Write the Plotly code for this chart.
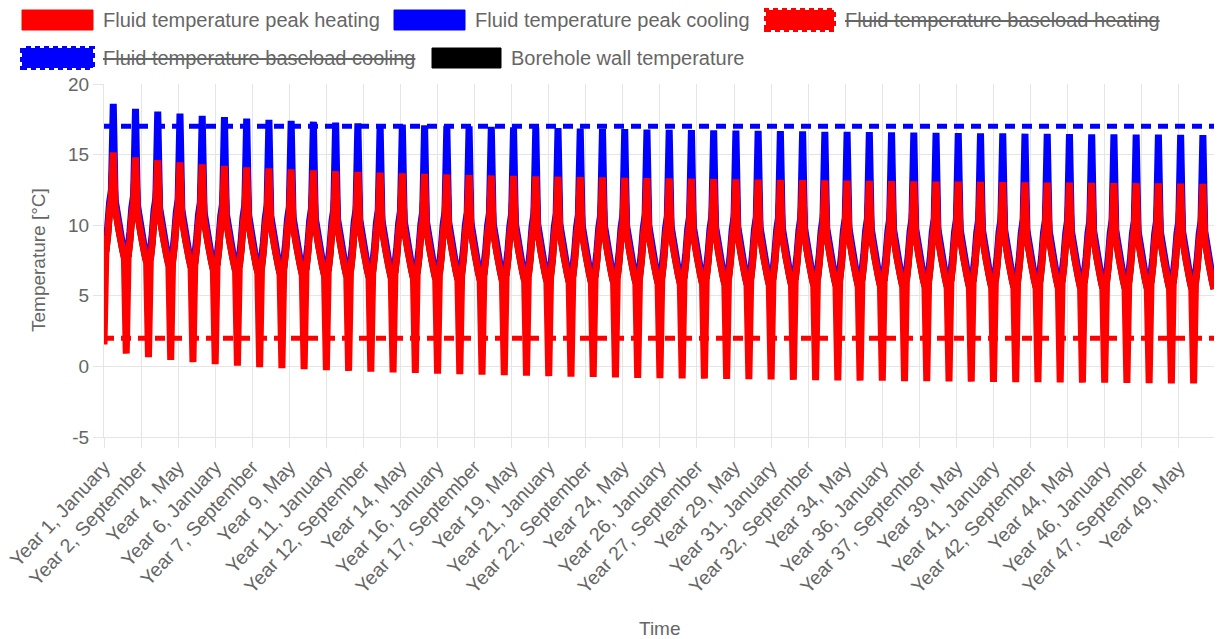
import plotly.graph_objects as go

# ---------------- data ----------------
month_names = ["January", "February", "March", "April", "May", "June",
               "July", "August", "September", "October", "November", "December"]
n_years = 50

# shift of the whole seasonal pattern per simulation year (read from the peaks)
year_offset = [0.00, -0.35, -0.55, -0.70, -0.85, -0.95, -1.05, -1.13, -1.20, -1.27,
               -1.33, -1.38, -1.43, -1.48, -1.52, -1.56, -1.60, -1.63, -1.66, -1.69,
               -1.72, -1.75, -1.77, -1.80, -1.82, -1.84, -1.86, -1.88, -1.90, -1.92,
               -1.94, -1.96, -1.98, -1.99, -2.01, -2.03, -2.04, -2.06, -2.07, -2.09,
               -2.10, -2.12, -2.13, -2.14, -2.16, -2.17, -2.18, -2.19, -2.20, -2.22]

# January minimum of the peak-heating fluid temperature, per year
heat_min_january = [1.55, 0.90, 0.65, 0.45, 0.30, 0.15, 0.05, -0.05, -0.12, -0.19,
                    -0.26, -0.32, -0.37, -0.42, -0.47, -0.51, -0.55, -0.59, -0.63, -0.66,
                    -0.69, -0.72, -0.75, -0.78, -0.81, -0.83, -0.85, -0.87, -0.89, -0.91,
                    -0.93, -0.95, -0.97, -0.99, -1.01, -1.02, -1.04, -1.05, -1.07, -1.08,
                    -1.10, -1.11, -1.12, -1.14, -1.15, -1.16, -1.17, -1.19, -1.20, -1.21]

# monthly values in year 1 (January of peak heating comes from heat_min_january)
peak_heating_year1 = [None, 8.1, 9.3, 11.0, 12.0, 15.15, 11.3, 10.5, 9.7, 9.0, 8.3, 7.7]
peak_cooling_year1 = [8.4, 8.7, 9.9, 11.6, 12.5, 18.6, 11.8, 11.0, 10.2, 9.4, 8.6, 8.0]
borehole_wall_year1 = [8.3, 8.1, 9.3, 11.0, 12.0, 15.15, 11.3, 10.5, 9.7, 9.0, 8.3, 7.7]

max_fluid_temperature = 17.0
min_fluid_temperature = 2.0

y_tick_values = [-5, 0, 5, 10, 15, 20]
y_tick_text = ["-5", "0", "5", "10", "15", "20"]

labels = [f"Year {y}, {m}" for y in range(1, n_years + 1) for m in month_names]

peak_heating, peak_cooling, borehole_wall = [], [], []
for yi in range(n_years):
    for mi in range(12):
        off = year_offset[yi]
        peak_heating.append(heat_min_january[yi] if mi == 0 else peak_heating_year1[mi] + off)
        peak_cooling.append(peak_cooling_year1[mi] + off)
        borehole_wall.append(borehole_wall_year1[mi] + off)

limit_max = [max_fluid_temperature] * len(labels)
limit_min = [min_fluid_temperature] * len(labels)

# ---------------- figure ----------------
W, H = 1217, 639
L, R, T, B = 104, 1214, 84, 437
FONT = "Liberation Sans, Arial, Helvetica, sans-serif"
TXT = "#666666"
GRID = "#e5e5e5"
LW = 7


def px(x):
    return (x - L) / (R - L)


def py(y):
    return (B - y) / (B - T)


fig = go.Figure()
fig.add_trace(go.Scatter(x=labels, y=borehole_wall, mode="lines",
                         line=dict(color="#000000", width=LW, simplify=False),
                         name="Borehole wall temperature"))
fig.add_trace(go.Scatter(x=labels, y=limit_min, mode="lines",
                         line=dict(color="#ff0000", width=5, dash="10px,7px"), name="min"))
fig.add_trace(go.Scatter(x=labels, y=limit_max, mode="lines",
                         line=dict(color="#0000ff", width=5, dash="10px,7px"), name="max"))
fig.add_trace(go.Scatter(x=labels, y=peak_cooling, mode="lines",
                         line=dict(color="#0000ff", width=LW, simplify=False),
                         name="Fluid temperature peak cooling"))
fig.add_trace(go.Scatter(x=labels, y=peak_heating, mode="lines",
                         line=dict(color="#ff0000", width=LW, simplify=False),
                         name="Fluid temperature peak heating"))

shapes = []
annotations = []

legend_items = [
    # (box x0, box x1, row center y, text x, text, fill, dashed, struck)
    (22, 93, 20, 101, "Fluid temperature peak heating", "#ff0000", False, False),
    (394, 465, 20, 473, "Fluid temperature peak cooling", "#0000ff", False, False),
    (766, 834, 20, 843, "Fluid temperature baseload heating", "#ff0000", True, True),
    (22, 93, 58, 101, "Fluid temperature baseload cooling", "#0000ff", True, True),
    (432, 501, 58, 509, "Borehole wall temperature", "#000000", False, False),
]
for x0, x1, yc, tx, text, col, dashed, struck in legend_items:
    shapes.append(dict(type="rect", xref="paper", yref="paper",
                       x0=px(x0), x1=px(x1), y0=py(yc + 10), y1=py(yc - 10),
                       fillcolor=col,
                       line=dict(color=col, width=4 if dashed else 1,
                                 dash="5px,4px" if dashed else "solid")))
    annotations.append(dict(xref="paper", yref="paper", x=px(tx), y=py(yc),
                            xanchor="left", yanchor="middle", showarrow=False,
                            text=f"<s>{text}</s>" if struck else text,
                            font=dict(family=FONT, size=20, color=TXT)))

annotations.append(dict(xref="paper", yref="paper", x=px(38), y=py(260),
                        xanchor="center", yanchor="middle", showarrow=False, textangle=-90,
                        text="Temperature [°C]", font=dict(family=FONT, size=19, color=TXT)))
annotations.append(dict(xref="paper", yref="paper", x=px(660), y=py(628),
                        xanchor="center", yanchor="middle", showarrow=False,
                        text="Time", font=dict(family=FONT, size=19, color=TXT)))

fig.update_layout(
    width=W, height=H,
    margin=dict(l=L, r=W - R, t=T, b=H - B, pad=0),
    paper_bgcolor="white", plot_bgcolor="white",
    showlegend=False,
    font=dict(family=FONT, size=19, color=TXT),
    shapes=shapes, annotations=annotations,
    xaxis=dict(type="category", range=[0, len(labels) - 1],
               tickmode="array", tickvals=labels[::20], ticktext=labels[::20],
               tickangle=-47, showgrid=True, gridcolor=GRID, gridwidth=1,
               ticks="outside", ticklen=10, tickcolor=GRID,
               showline=True, linecolor=GRID, linewidth=1,
               tickfont=dict(family=FONT, size=19.5, color=TXT), zeroline=False),
    yaxis=dict(range=[-5, 20], tickmode="array", tickvals=y_tick_values, ticktext=y_tick_text,
               showgrid=True, gridcolor=GRID, gridwidth=1,
               ticks="outside", ticklen=10, tickcolor=GRID,
               showline=True, linecolor=GRID, linewidth=1,
               zeroline=False, tickfont=dict(family=FONT, size=19, color=TXT)),
)

fig.write_html("out.html")
